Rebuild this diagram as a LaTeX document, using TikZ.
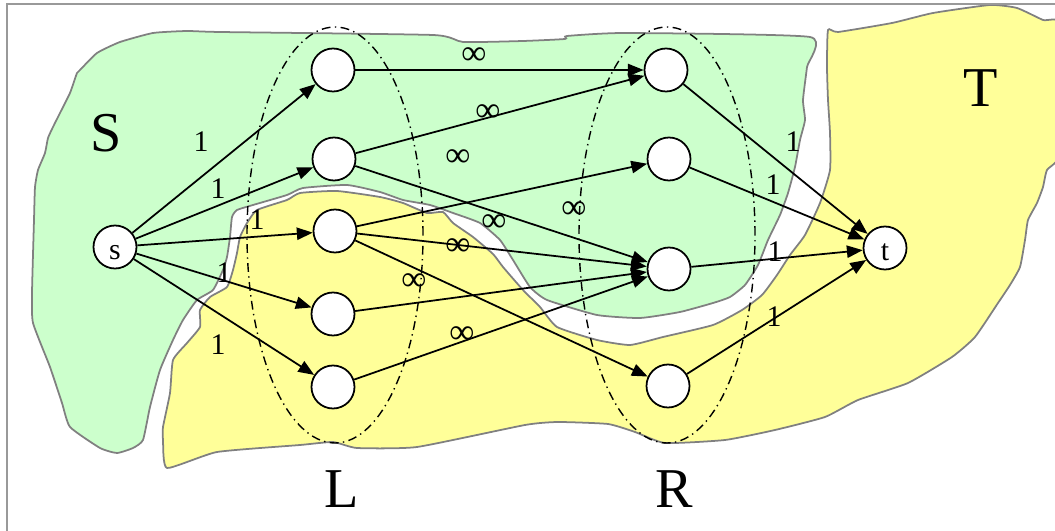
\documentclass[tikz,border=0pt]{standalone}
\usepackage{fontspec}
\setmainfont{Liberation Serif}
\usetikzlibrary{arrows.meta,shapes.geometric}

\definecolor{cutgreen}{HTML}{CCFFCC}
\definecolor{cutyellow}{HTML}{FFFF99}

\tikzset{
  vtx/.style={circle, draw, line width=1pt, fill=white, minimum size=0.86cm,
    inner sep=0pt, text height=14pt, text depth=0pt, font=\fontsize{17}{20}\selectfont},
  wt/.style={inner sep=0pt, font=\fontsize{17}{20}\selectfont},
  inf/.style={inner sep=0pt, font=\fontsize{20}{24}\selectfont},
  setname/.style={inner sep=0pt, font=\fontsize{32}{36}\selectfont},
  region/.style={draw=gray, line width=1pt},
  grp/.style={ellipse, draw, line width=0.8pt, dash pattern=on 5pt off 2.5pt on 0.8pt off 2.5pt,
    minimum width=3.52cm, minimum height=8.32cm, inner sep=0pt},
  arc/.style={->, line width=1pt}
}

\begin{document}
\begin{tikzpicture}[x=0.2mm, y=-0.2mm, >={Triangle[length=9pt,width=7pt]}]
	\useasboundingbox (0,0) rectangle (1055,531);
	% the two sides of the cut
	\draw[region, fill=cutgreen] plot[smooth cycle, tension=0.3] coordinates {
		(80,70) (97,53) (120,42) (153,33) (187,31) (220,32) (433,35) (463,42) (523,41)
		(565,39) (567,36) (625,33) (810,37) (807,67) (803,100) (805,120) (800,140)
		(795,167) (788,193) (780,215) (768,240) (758,265) (745,285) (730,297) (713,303)
		(680,312) (640,318) (597,315) (547,300) (530,287) (513,260) (500,240) (480,223)
		(453,213) (430,205) (403,200) (380,192) (347,185) (303,188) (287,195) (253,205)
		(237,210) (232,217) (230,237) (227,257) (223,270) (213,290) (197,300) (183,320)
		(173,340) (160,370) (150,407) (143,440) (133,448) (117,453) (100,448) (70,427)
		(62,403) (50,367) (33,323) (32,293) (34,220) (35,187) (38,170) (45,153) (48,138)
		(53,127) (60,113) (70,93) (77,73)};
	\draw[region, fill=cutyellow] plot[smooth cycle, tension=0.3] coordinates {
		(247,223) (257,210) (287,200) (300,193) (337,191) (380,197) (403,203) (427,213)
		(443,212) (453,223) (473,237) (493,254) (503,267) (523,290) (540,307) (557,327)
		(597,340) (630,345) (663,337) (713,325) (742,310) (762,295) (777,275) (790,255)
		(805,235) (820,203) (830,170) (830,133) (828,100) (827,67) (828,30) (838,32)
		(892,23) (933,13) (990,5) (1017,8) (1043,20) (1062,26) (1062,150) (1047,170)
		(1043,187) (1037,203) (1028,220) (1025,240) (1020,267) (1010,285) (998,303)
		(975,337) (952,357) (908,383) (858,400) (825,417) (775,430) (725,440) (665,443)
		(635,432) (608,424) (558,422) (525,425) (417,447) (357,448) (333,442) (300,445)
		(217,452) (167,468) (163,440) (163,427) (170,393) (173,360) (187,343) (200,327)
		(200,310) (210,297) (227,287) (233,270) (237,253) (240,237)};
	\draw[gray!80, line width=0.6pt] (7,531) -- (7,4) -- (1055,4);

	% left and right layers
	\node[grp] (Lgrp) at (335,235) {};
	\node[grp] (Rgrp) at (667,235) {};

	\node[vtx] (s) at (115,247) {s};
	\node[vtx] (t) at (885,248) {t};
	\node[vtx] (L1) at (333,70) {};
	\node[vtx] (L2) at (334,159) {};
	\node[vtx] (L3) at (335,231) {};
	\node[vtx] (L4) at (333,314) {};
	\node[vtx] (L5) at (333,387) {};
	\node[vtx] (R1) at (666,70) {};
	\node[vtx] (R2) at (669,159) {};
	\node[vtx] (R3) at (669,269) {};
	\node[vtx] (R4) at (668,386) {};

	\foreach \i in {1,...,5}
		\draw[arc] (s) -- (L\i);
	\foreach \a/\b in {L1/R1, L2/R1, L2/R3, L3/R2, L3/R3, L3/R4, L4/R3, L5/R3}
		\draw[arc] (\a) -- (\b);
	\foreach \i in {1,...,4}
		\draw[arc] (R\i) -- (t);

	% capacities
	\foreach \n/\p in {a1/{(201,142)}, a2/{(218,189)}, a3/{(257,220)}, a4/{(224,273)},
			a5/{(218,345)}, b1/{(793,142)}, b2/{(773,185)}, b3/{(775,252)}, b4/{(774,317)}}
		\node[wt] (\n) at \p {1};
	\foreach \n/\p in {c1/{(474,56)}, c2/{(488,113)}, c3/{(458,158)}, c4/{(574,210)},
			c5/{(494,223)}, c6/{(458,247)}, c7/{(414,282)}, c8/{(462,335)}}
		\node[inf] (\n) at \p {∞};

	\node[setname] (Stxt) at (106,133) {S};
	\node[setname] (Ttxt) at (981,88) {T};
	\node[setname] (Ltxt) at (342,489) {L};
	\node[setname] (Rtxt) at (674,489) {R};
\end{tikzpicture}
\end{document}
